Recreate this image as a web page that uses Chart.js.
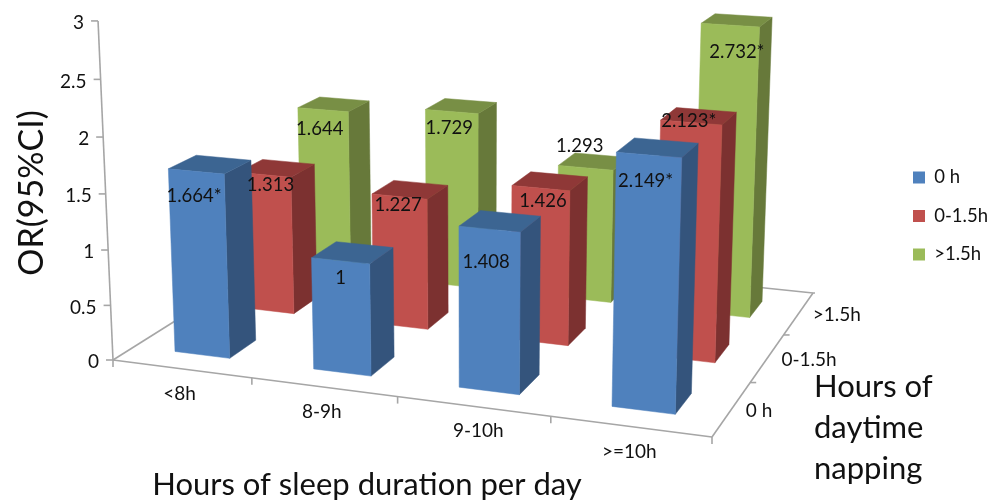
<!DOCTYPE html>
<html>
<head>
<meta charset="utf-8">
<style>
  html, body { margin: 0; padding: 0; background: #fff; }
  #box { width: 998px; height: 500px; }
</style>
<script src="https://cdn.jsdelivr.net/npm/chart.js@4"></script>
</head>
<body>
<div id="box"><canvas id="chart"></canvas></div>
<script>
const categories = ['<8h', '8-9h', '9-10h', '>=10h'];
const napGroups = ['0 h', '0-1.5h', '>1.5h'];
const noNap = [1.664, 1, 1.408, 2.149];
const shortNap = [1.313, 1.227, 1.426, 2.123];
const longNap = [1.644, 1.729, 1.293, 2.732];
const noNapLabels = ['1.664*', '1', '1.408', '2.149*'];
const shortNapLabels = ['1.313', '1.227', '1.426', '2.123*'];
const longNapLabels = ['1.644', '1.729', '1.293', '2.732*'];
const yTicks = [0, 0.5, 1, 1.5, 2, 2.5, 3];

// label shift from the centre of the bar top, one row per series
const labelDx = [[-16, -12, -14, -12], [-6, -12, -7, -10], [-14, -12, -14, 0]];
const labelDy = [[32, 25, 41, 33], [17, 15, 20, 5], [25, 22, -15, 32]];
// category labels do not sit exactly under the middle of their span
const categoryDx = [0, 0, 7, 1];

const faces = [
  { front: '#4f81bd', side: '#34547c', top: '#3c6592' },
  { front: '#c0504d', side: '#7c3130', top: '#8f3837' },
  { front: '#9bbb59', side: '#67793a', top: '#788f45' }
];

// corners of the floor, and where the upright edges meet far below the page
const floor = [[113, 360], [712, 437], [813, 293], [304, 240]];
const drop = [472, 8500];
const lift = -0.01333;
const barDepth = 0.39;
const depthStart = 0.29;

const sx = floor[0][0] - floor[1][0] + floor[2][0] - floor[3][0];
const sy = floor[0][1] - floor[1][1] + floor[2][1] - floor[3][1];
const dx1 = floor[1][0] - floor[2][0], dx2 = floor[3][0] - floor[2][0];
const dy1 = floor[1][1] - floor[2][1], dy2 = floor[3][1] - floor[2][1];
const den = dx1 * dy2 - dx2 * dy1;
const g = (sx * dy2 - dx2 * sy) / den;
const h = (dx1 * sy - sx * dy1) / den;

function project(u, v, z) {
  const s = u / categories.length, t = v / napGroups.length;
  const w = g * s + h * t + 1 + lift * z;
  const x = (floor[1][0] - floor[0][0] + g * floor[1][0]) * s + (floor[3][0] - floor[0][0] + h * floor[3][0]) * t + floor[0][0] + lift * z * drop[0];
  const y = (floor[1][1] - floor[0][1] + g * floor[1][1]) * s + (floor[3][1] - floor[0][1] + h * floor[3][1]) * t + floor[0][1] + lift * z * drop[1];
  return [x / w, y / w];
}

function poly(ctx, points, color) {
  ctx.fillStyle = color;
  ctx.strokeStyle = color;
  ctx.lineWidth = 0.5;
  ctx.beginPath();
  points.forEach((p, i) => i ? ctx.lineTo(p[0], p[1]) : ctx.moveTo(p[0], p[1]));
  ctx.closePath();
  ctx.fill();
  ctx.stroke();
}

function line(ctx, a, b) {
  ctx.beginPath();
  ctx.moveTo(a[0], a[1]);
  ctx.lineTo(b[0], b[1]);
  ctx.stroke();
}

function text(ctx, str, x, y, font, align) {
  ctx.font = font;
  ctx.fillStyle = '#111';
  ctx.textAlign = align || 'center';
  ctx.textBaseline = 'middle';
  ctx.fillText(str, x, y);
}

const bars3d = {
  id: 'bars3d',
  afterLayout(chart) {
    // legend sits higher than the middle of the page
    const legend = chart.legend;
    legend.left = 893;
    legend.right = 998;
    legend.top = 146;
    legend.bottom = 286;
  },
  beforeDatasetsDraw(chart) {
    const ctx = chart.ctx;
    const area = chart.chartArea;
    const yScale = chart.scales.y;
    const zOf = v => (yScale.bottom - yScale.getPixelForValue(v)) / yScale.height * yScale.max;

    ctx.save();
    ctx.lineCap = 'butt';
    ctx.strokeStyle = '#a6a6a6';
    ctx.lineWidth = 1.6;
    const nU = categories.length, nV = napGroups.length;
    line(ctx, project(0, 0, 0), project(0, 0, yScale.max));
    line(ctx, project(0, 0, 0), project(nU, 0, 0));
    line(ctx, project(nU, 0, 0), project(nU, nV, 0));
    line(ctx, project(0, 0, 0), project(0, nV, 0));
    line(ctx, project(0, nV, 0), project(nU, nV, 0));

    yTicks.forEach(t => {
      const p = project(0, 0, zOf(t));
      line(ctx, [p[0] - 7, p[1]], p);
      text(ctx, String(t), p[0] - 14, p[1] + 2, '19px Lato', 'right');
    });
    categories.forEach((c, i) => {
      const p = project(i, 0, 0);
      line(ctx, p, [p[0], p[1] + 7]);
      const q = project(i + 0.5, 0, 0);
      text(ctx, c, q[0] - 2 + categoryDx[i], q[1] + 25, '19px Lato');
    });
    const end = project(nU, 0, 0);
    line(ctx, end, [end[0], end[1] + 7]);
    napGroups.forEach((c, i) => {
      const p = project(nU, i, 0);
      if (i) line(ctx, p, [p[0] + 6, p[1]]);
      const q = project(nU, i + 0.5, 0);
      text(ctx, c, q[0] + 14, q[1] + 2, '19px Lato', 'left');
    });
    const corner = project(nU, nV, 0);
    line(ctx, corner, [corner[0] + 2, corner[1]]);

    // back row first so nearer bars cover it
    for (let ds = nV - 1; ds >= 0; ds--) {
      const meta = chart.getDatasetMeta(ds);
      const f = faces[ds];
      meta.data.forEach(el => {
        const scale = nU / area.width;
        const u0 = (el.x - el.width / 2 - area.left) * scale;
        const u1 = (el.x + el.width / 2 - area.left) * scale;
        const v0 = ds + depthStart, v1 = v0 + barDepth;
        const z = (el.base - el.y) / yScale.height * yScale.max;
        poly(ctx, [project(u1, v0, 0), project(u1, v1, 0), project(u1, v1, z), project(u1, v0, z)], f.side);
        poly(ctx, [project(u0, v0, z), project(u1, v0, z), project(u1, v1, z), project(u0, v1, z)], f.top);
        poly(ctx, [project(u0, v0, 0), project(u1, v0, 0), project(u1, v0, z), project(u0, v0, z)], f.front);
      });
    }

    const labelSets = [noNapLabels, shortNapLabels, longNapLabels];
    for (let ds = nV - 1; ds >= 0; ds--) {
      chart.getDatasetMeta(ds).data.forEach((el, i) => {
        const u = (el.x - area.left) * nU / area.width;
        const z = (el.base - el.y) / yScale.height * yScale.max;
        const p = project(u, ds + depthStart + barDepth / 2, z);
        text(ctx, labelSets[ds][i], p[0] + labelDx[ds][i], p[1] + labelDy[ds][i], '18.5px Lato');
      });
    }

    ctx.save();
    ctx.translate(32, 193);
    ctx.rotate(-Math.PI / 2);
    text(ctx, 'OR(95%CI)', 0, 0, '34px Lato');
    ctx.restore();
    text(ctx, 'Hours of sleep duration per day', 367, 485, '31px Lato');
    text(ctx, 'Hours of', 814, 387, '31px Lato', 'left');
    text(ctx, 'daytime', 814, 428, '31px Lato', 'left');
    text(ctx, 'napping', 814, 469, '31px Lato', 'left');
    ctx.restore();
    return false;
  }
};

new Chart(document.getElementById('chart'), {
  type: 'bar',
  data: {
    labels: categories,
    datasets: [
      { label: napGroups[0], data: noNap, backgroundColor: faces[0].front, borderWidth: 0 },
      { label: napGroups[1], data: shortNap, backgroundColor: faces[1].front, borderWidth: 0 },
      { label: napGroups[2], data: longNap, backgroundColor: faces[2].front, borderWidth: 0 }
    ]
  },
  options: {
    responsive: true,
    maintainAspectRatio: false,
    animation: false,
    layout: { padding: { top: 20, bottom: 140, left: 110, right: 0 } },
    datasets: { bar: { grouped: false, categoryPercentage: 1, barPercentage: 0.4 } },
    plugins: {
      tooltip: { enabled: false },
      legend: {
        position: 'right',
        labels: {
          boxWidth: 12,
          boxHeight: 12,
          padding: 20,
          color: '#111',
          font: { family: 'Lato', size: 18.5 }
        }
      }
    },
    scales: {
      x: { display: false },
      y: { display: false, min: 0, max: 3 }
    }
  },
  plugins: [bars3d]
});
</script>
</body>
</html>
